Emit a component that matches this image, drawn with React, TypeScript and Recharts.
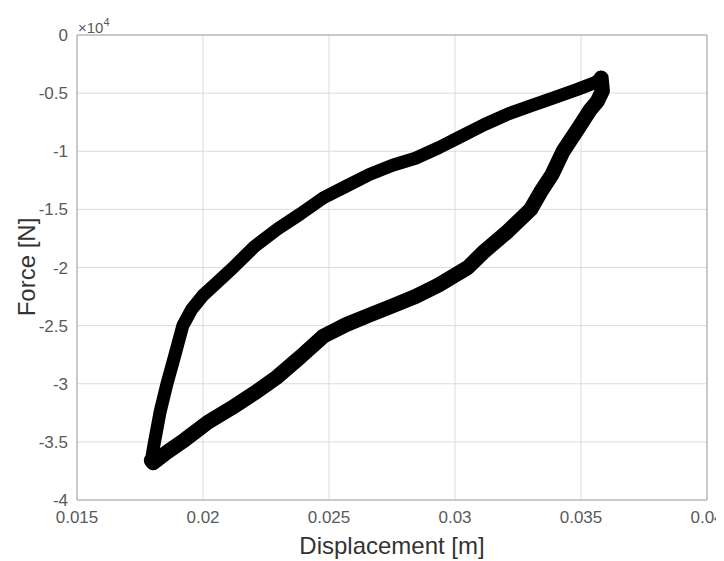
import React from 'react';
import { LineChart, Line, XAxis, YAxis, CartesianGrid, ReferenceLine, Label } from 'recharts';

// Loading branch (bottom-left tip -> top-right tip)
const upperDisp = [0.01795, 0.01805, 0.0183, 0.01857, 0.01885, 0.0192, 0.01955, 0.02, 0.0206, 0.0212, 0.02204, 0.02295, 0.02386, 0.02478, 0.02569, 0.0266, 0.02752, 0.02843, 0.02935, 0.03026, 0.03117, 0.03209, 0.033, 0.03391, 0.03483, 0.03556, 0.0358];
const upperForce = [-36600, -35300, -32400, -30000, -27800, -25000, -23600, -22400, -21200, -20000, -18200, -16700, -15400, -14000, -13000, -12000, -11200, -10600, -9700, -8700, -7700, -6800, -6100, -5400, -4700, -4100, -3700];

// Unloading branch (top-right tip -> bottom-left tip)
const lowerDisp = [0.0358, 0.03585, 0.03565, 0.03536, 0.0349, 0.03429, 0.03385, 0.0334, 0.033, 0.03209, 0.03117, 0.03051, 0.02935, 0.02843, 0.02752, 0.0266, 0.02569, 0.02478, 0.02386, 0.02295, 0.02204, 0.02112, 0.0202, 0.01929, 0.01856, 0.01802, 0.01795];
const lowerForce = [-3700, -4800, -5700, -6450, -8000, -10000, -12000, -13500, -15000, -16900, -18600, -20000, -21500, -22500, -23300, -24100, -24900, -25900, -27700, -29400, -30800, -32100, -33300, -34800, -35900, -36800, -36600];

const xTicks = [0.015, 0.02, 0.025, 0.03, 0.035, 0.04];
const xTickLabels = ['0.015', '0.02', '0.025', '0.03', '0.035', '0.04'];
const yTicks = [0, -5000, -10000, -15000, -20000, -25000, -30000, -35000, -40000];
const yTickLabels = ['0', '-0.5', '-1', '-1.5', '-2', '-2.5', '-3', '-3.5', '-4'];

const upperData = upperDisp.map((d, i) => ({ d, f: upperForce[i] }));
const lowerData = lowerDisp.map((d, i) => ({ d, f: lowerForce[i] }));

const FONT = '"Liberation Sans", Arial, Helvetica, sans-serif';
const TICK_COLOR = '#5a5a5a';
const AXIS_COLOR = '#a6a6a6';
const GRID_COLOR = '#dcdcdc';

const XTick = (props: any) => {
  const { x, y, payload } = props;
  const idx = xTicks.indexOf(payload.value);
  return (
    <text x={x} y={y + 15} textAnchor="middle" fill={TICK_COLOR} fontSize={17} fontFamily={FONT}>
      {idx >= 0 ? xTickLabels[idx] : payload.value}
    </text>
  );
};

const YTick = (props: any) => {
  const { x, y, payload } = props;
  const idx = yTicks.indexOf(payload.value);
  return (
    <text x={x - 1} y={y + 6} textAnchor="end" fill={TICK_COLOR} fontSize={17} fontFamily={FONT}>
      {idx >= 0 ? yTickLabels[idx] : payload.value}
    </text>
  );
};

export default function App() {
  return (
    <div style={{ width: 716, height: 553, background: '#fff' }}>
      <LineChart width={716} height={553} margin={{ top: 27, right: 17, left: 9, bottom: 31 }}>
        <CartesianGrid stroke={GRID_COLOR} strokeWidth={1} />
        <XAxis
          type="number"
          dataKey="d"
          domain={[0.015, 0.04]}
          ticks={xTicks}
          allowDataOverflow
          height={30}
          stroke={AXIS_COLOR}
          tickLine={false}
          tick={<XTick />}
        >
          <Label
            content={() => (
              <text x={384} y={546} textAnchor="middle" fill="#333" fontSize={24} fontFamily={FONT}>
                Displacement [m]
              </text>
            )}
          />
        </XAxis>
        <YAxis
          type="number"
          dataKey="f"
          domain={[-40000, 0]}
          ticks={yTicks}
          allowDataOverflow
          width={60}
          stroke={AXIS_COLOR}
          tickLine={false}
          tick={<YTick />}
        >
          <Label
            content={() => (
              <text
                x={27}
                y={259}
                transform="rotate(-90 27 259)"
                textAnchor="middle"
                fill="#333"
                fontSize={24}
                fontFamily={FONT}
              >
                Force [N]
              </text>
            )}
          />
        </YAxis>
        <ReferenceLine x={0.04} stroke={AXIS_COLOR} />
        <ReferenceLine
          y={0}
          stroke={AXIS_COLOR}
          label={() => (
            <text x={70} y={25} fill={TICK_COLOR} fontSize={15} fontFamily={FONT}>
              ×10<tspan dy={-7} fontSize={11}>4</tspan>
            </text>
          )}
        />
        <Line
          data={upperData}
          dataKey="f"
          type="linear"
          stroke="#000"
          strokeWidth={13}
          strokeLinejoin="round"
          strokeLinecap="round"
          dot={false}
          isAnimationActive={false}
        />
        <Line
          data={lowerData}
          dataKey="f"
          type="linear"
          stroke="#000"
          strokeWidth={15}
          strokeLinejoin="round"
          strokeLinecap="round"
          dot={false}
          isAnimationActive={false}
        />
      </LineChart>
    </div>
  );
}
